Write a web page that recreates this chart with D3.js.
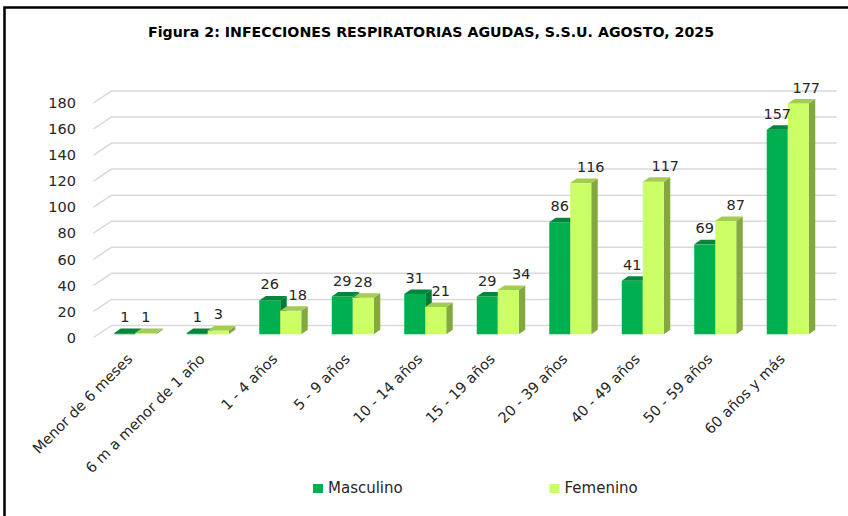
<!DOCTYPE html>
<head>
<meta charset="utf-8">
<title>Figura 2</title>
<script src="https://cdn.jsdelivr.net/npm/d3@7"></script>
<style>
body { margin: 0; background: #fff; }
text { font-family: "DejaVu Sans", sans-serif; fill: #262626; }
</style>
</head>
<body>
<script>
// data
var categories = ["Menor de 6 meses", "6 m a menor de 1 año", "1 - 4 años", "5 - 9 años",
  "10 - 14 años", "15 - 19 años", "20 - 39 años", "40 - 49 años", "50 - 59 años", "60 años y más"];
var masculino = [1, 1, 26, 29, 31, 29, 86, 41, 69, 157];
var femenino  = [1, 3, 18, 28, 21, 34, 116, 117, 87, 177];
var yTicks = [0, 20, 40, 60, 80, 100, 120, 140, 160, 180];
// hand-moved labels of the Femenino series (px to the right)
var femLabelNudge = [0, 0, 7, 0, 5, 13, 10, 12, 10, 8];

var W = 848, H = 516;
var barW = 21;          // width of one column face
var depth = {dx: 6.5, dy: -4.5};   // column depth
var wall = {dx: 18, dy: -12};      // floor depth (front edge -> back wall)

var svg = d3.select("body").append("svg")
  .attr("width", W)
  .attr("height", H);

// frame
svg.append("rect")
  .attr("x", 4.5).attr("y", 7.5)
  .attr("width", 900).attr("height", 600)
  .attr("fill", "none")
  .attr("stroke", "#000")
  .attr("stroke-width", 2.5);

svg.append("text")
  .attr("x", 148).attr("y", 37)
  .attr("textLength", 566)
  .attr("lengthAdjust", "spacingAndGlyphs")
  .style("font-weight", "bold")
  .style("font-size", "14px")
  .style("fill", "#000")
  .text("Figura 2: INFECCIONES RESPIRATORIAS AGUDAS, S.S.U. AGOSTO, 2025");

// scales: front edge of the floor, and the plane where the columns stand
var yFront = d3.scaleLinear().domain([0, 180]).range([337.5, 102.9]);
var yBar = d3.scaleLinear().domain([0, 180]).range([334.3, 99.7]);
var x = d3.scaleBand().domain(categories).range([99, 824]);
var xFront0 = 93.5;

// gridlines (left slant + back wall)
var grid = svg.append("g")
  .attr("stroke", "#d9d9d9")
  .attr("stroke-width", 1.5)
  .attr("fill", "none");
yTicks.forEach(function(t) {
  var yf = yFront(t);
  grid.append("polyline")
    .attr("points", [[xFront0, yf], [xFront0 + wall.dx, yf + wall.dy], [836.5, yf + wall.dy]].join(" "));
});

// y tick labels
svg.append("g").selectAll("text")
  .data(yTicks)
  .enter().append("text")
  .attr("x", 76)
  .attr("y", function(d) { return yFront(d); })
  .attr("dy", "0.36em")
  .attr("text-anchor", "end")
  .style("font-size", "14.5px")
  .text(function(d) { return d; });

var colors = {
  m: {front: "#00b050", top: "#00873b", side: "#007a35"},
  f: {front: "#ccff66", top: "#a3cc52", side: "#82a83f"}
};

function column(g, x0, v, c) {
  var y0 = yBar(0), y1 = yBar(v);
  var dx = depth.dx, dy = depth.dy;
  g.append("polygon")
    .attr("points", [[x0 + barW, y0], [x0 + barW + dx, y0 + dy], [x0 + barW + dx, y1 + dy], [x0 + barW, y1]].join(" "))
    .attr("fill", c.side);
  g.append("rect")
    .attr("x", x0).attr("y", y1)
    .attr("width", barW).attr("height", y0 - y1)
    .attr("fill", c.front);
  g.append("polygon")
    .attr("points", [[x0, y1], [x0 + dx, y1 + dy], [x0 + barW + dx, y1 + dy], [x0 + barW, y1]].join(" "))
    .attr("fill", c.top);
}

var bars = svg.append("g");
categories.forEach(function(cat, i) {
  var cx = x(cat) + x.bandwidth() / 2;
  var g = bars.append("g");
  column(g, cx - barW, masculino[i], colors.m);
  column(g, cx, femenino[i], colors.f);
});

// value labels
var labels = svg.append("g")
  .attr("text-anchor", "middle")
  .style("font-size", "14.5px");
categories.forEach(function(cat, i) {
  var cx = x(cat) + x.bandwidth() / 2;
  labels.append("text")
    .attr("x", cx - barW / 2)
    .attr("y", yBar(masculino[i]) - 11)
    .text(masculino[i]);
  labels.append("text")
    .attr("x", cx + barW / 2 + femLabelNudge[i])
    .attr("y", yBar(femenino[i]) - 11)
    .text(femenino[i]);
});

// category labels
svg.append("g").selectAll("text")
  .data(categories)
  .enter().append("text")
  .attr("text-anchor", "end")
  .style("font-size", "14.5px")
  .attr("transform", function(d) {
    return "translate(" + (x(d) + x.bandwidth() / 2 - 2) + ",360) rotate(-45)";
  })
  .text(function(d) { return d; });

// legend
var legend = [
  {name: "Masculino", color: colors.m.front, x: 313},
  {name: "Femenino", color: colors.f.front, x: 549.5}
];
var lg = svg.append("g").selectAll("g")
  .data(legend)
  .enter().append("g")
  .attr("transform", function(d) { return "translate(" + d.x + ",484)"; });
lg.append("rect")
  .attr("width", 10).attr("height", 9)
  .attr("fill", function(d) { return d.color; });
lg.append("text")
  .attr("x", 15).attr("y", 9)
  .style("font-size", "15px")
  .text(function(d) { return d.name; });
</script>
</body>
